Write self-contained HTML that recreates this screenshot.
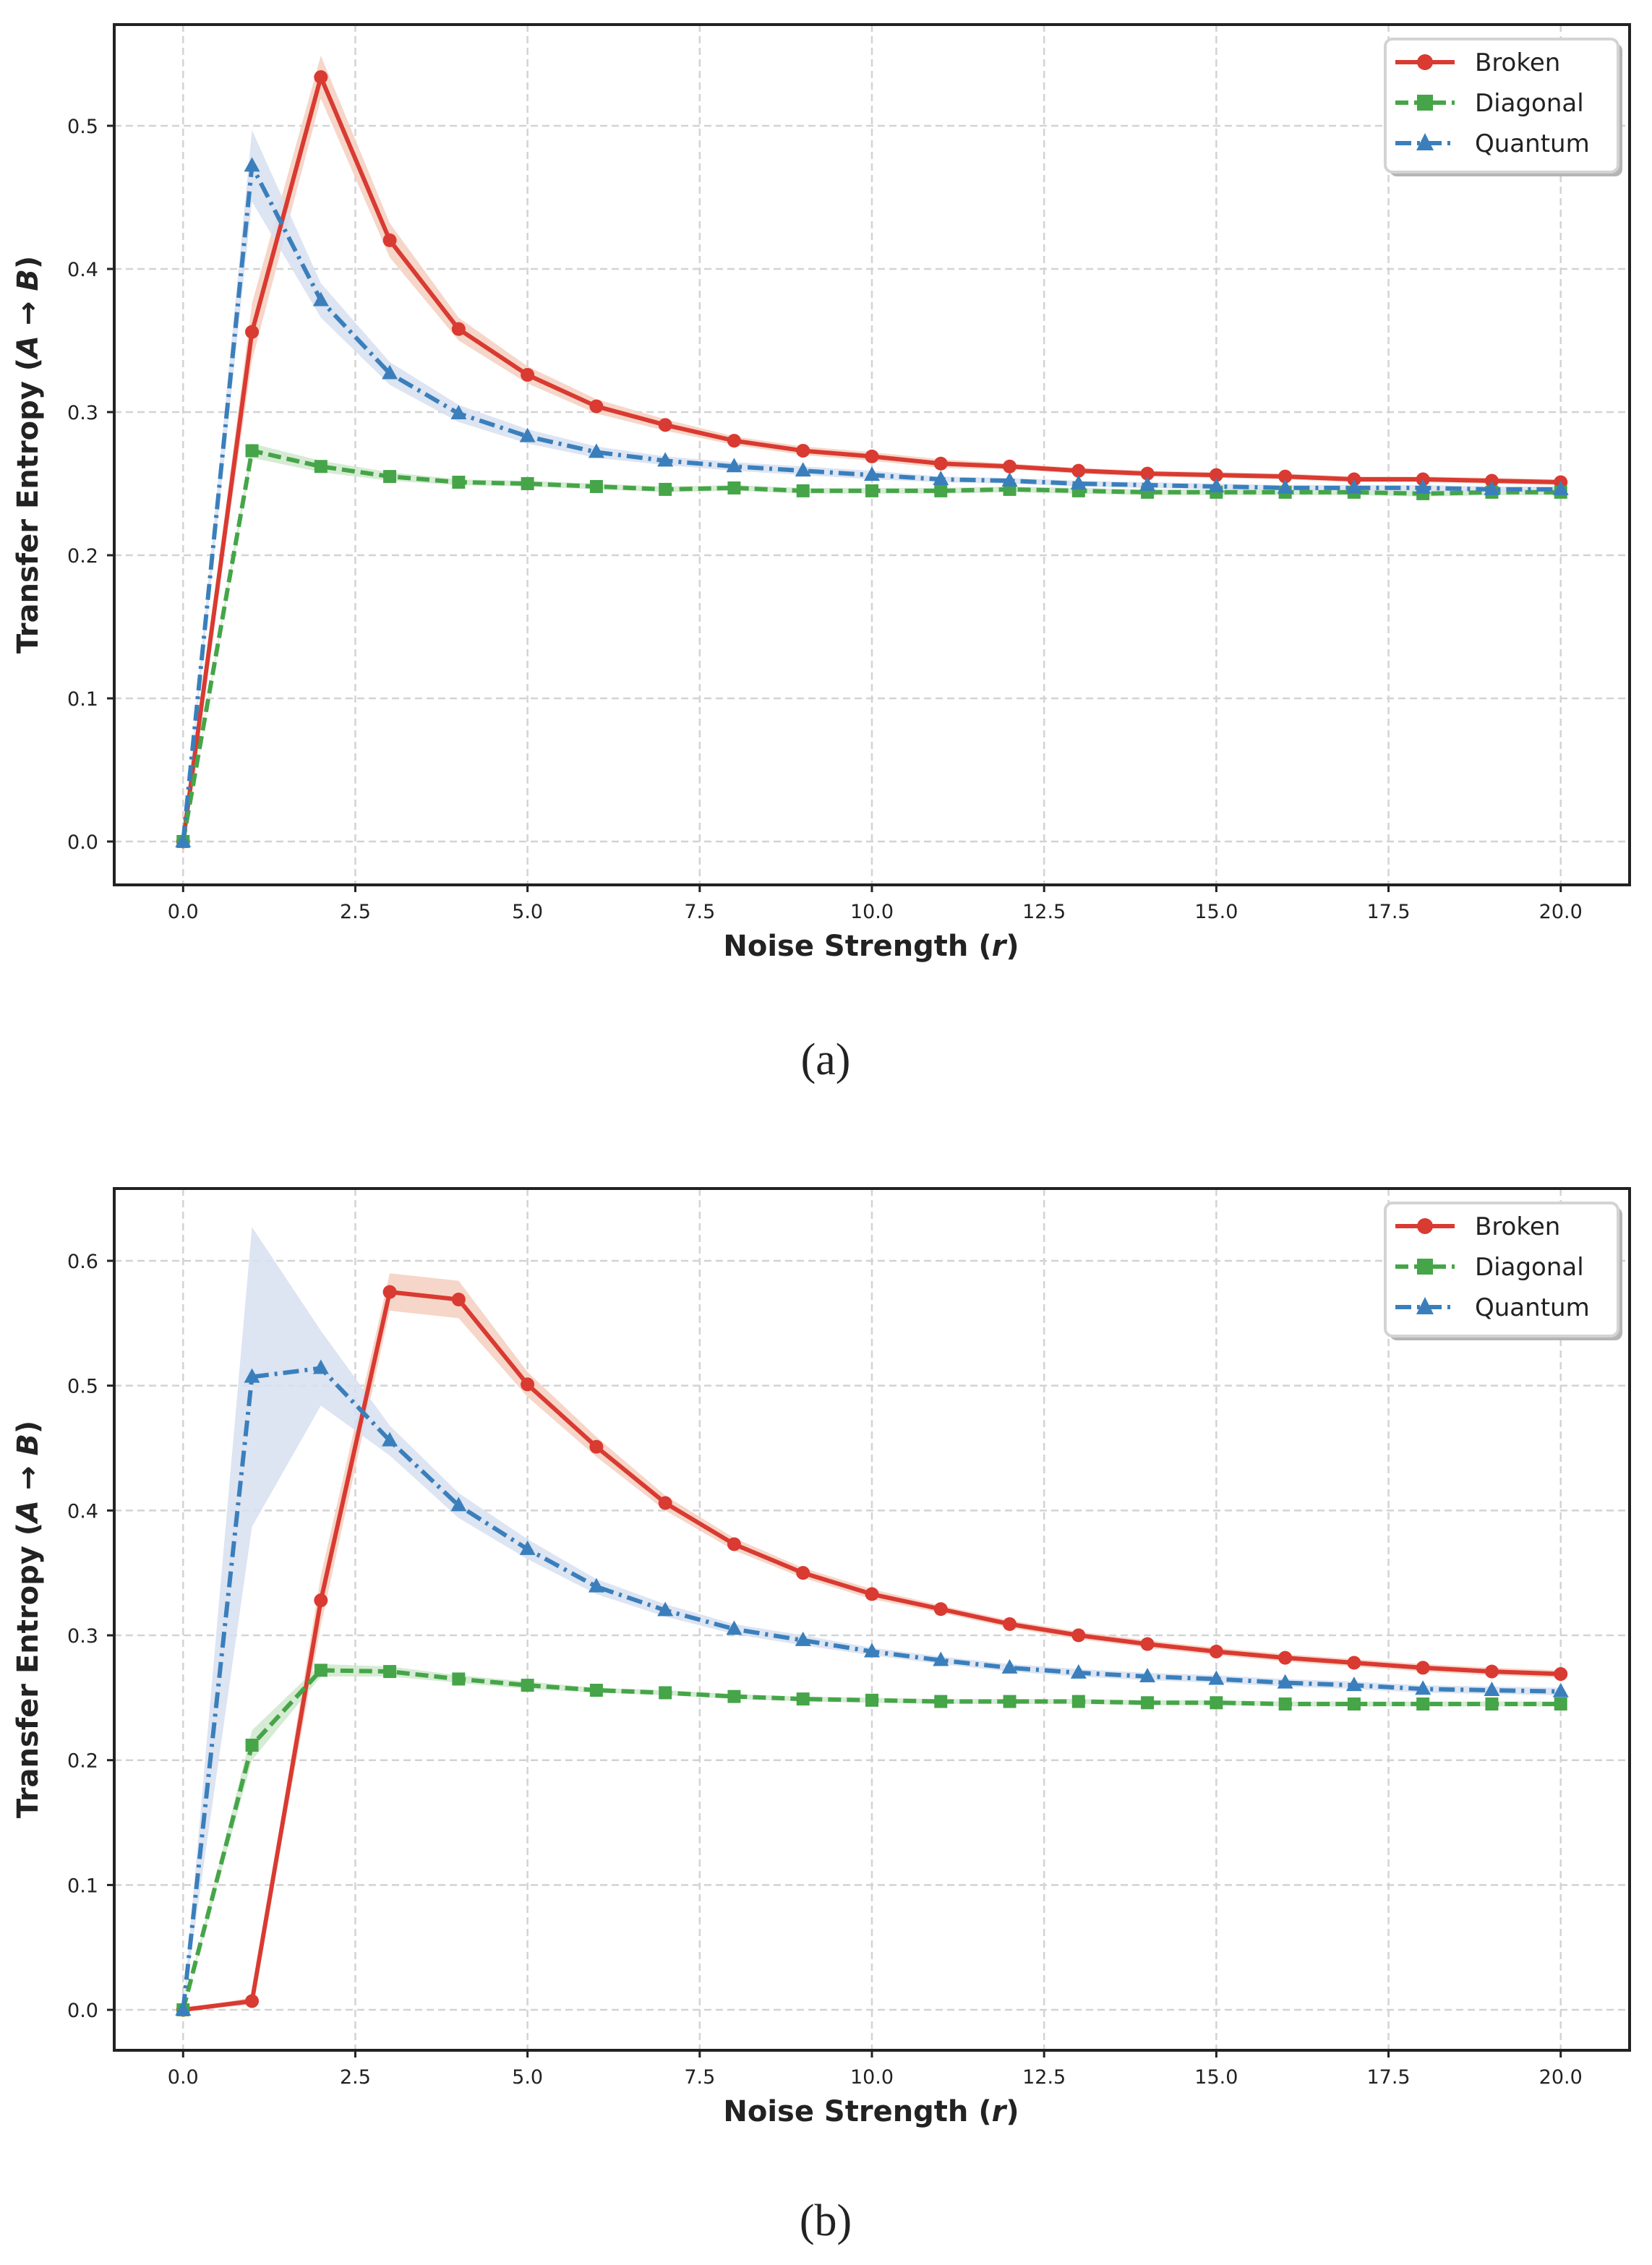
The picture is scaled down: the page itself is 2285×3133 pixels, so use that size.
<!DOCTYPE html>
<html><head><meta charset="utf-8">
<style>
html,body{margin:0;padding:0;background:#fff;}
svg{display:block;font-family:"DejaVu Sans","Liberation Sans",sans-serif;}
</style></head>
<body>
<svg id="fig" width="2285" height="3133" viewBox="0 0 2285 3133" xmlns="http://www.w3.org/2000/svg"></svg>
<script>
const xCats = [0,1,2,3,4,5,6,7,8,9,10,11,12,13,14,15,16,17,18,19,20];
const xTicks = [0,2.5,5,7.5,10,12.5,15,17.5,20];
const xTickLabels = ["0.0","2.5","5.0","7.5","10.0","12.5","15.0","17.5","20.0"];

const aBroken   = [0,.356,.534,.420,.358,.326,.304,.291,.280,.273,.269,.264,.262,.259,.257,.256,.255,.253,.253,.252,.251];
const aBrokenErr= [0,.02,.015,.012,.008,.006,.005,.004,.003,.003,.003,.003,.002,.002,.002,.002,.002,.002,.002,.002,.002];
const aDiag     = [0,.273,.262,.255,.251,.250,.248,.246,.247,.245,.245,.245,.246,.245,.244,.244,.244,.244,.243,.244,.244];
const aDiagErr  = [0,.005,.004,.003,.002,.002,.002,.002,.002,.002,.002,.002,.002,.002,.002,.002,.002,.002,.002,.002,.002];
const aQuant    = [0,.472,.378,.327,.299,.283,.272,.266,.262,.259,.256,.253,.252,.250,.249,.248,.247,.247,.247,.246,.246];
const aQuantErr = [0,.025,.012,.008,.006,.005,.004,.003,.003,.003,.003,.002,.002,.002,.002,.002,.002,.002,.002,.002,.002];
const aYTicks = [0,0.1,0.2,0.3,0.4,0.5];
const aYTickLabels = ["0.0","0.1","0.2","0.3","0.4","0.5"];

const bBroken   = [0,.007,.328,.575,.569,.501,.451,.406,.373,.350,.333,.321,.309,.300,.293,.287,.282,.278,.274,.271,.269];
const bBrokenErr= [0,.003,.02,.015,.015,.01,.008,.006,.005,.004,.004,.003,.003,.003,.003,.003,.003,.003,.003,.003,.003];
const bDiag     = [0,.212,.272,.271,.265,.260,.256,.254,.251,.249,.248,.247,.247,.247,.246,.246,.245,.245,.245,.245,.245];
const bDiagErr  = [0,.012,.005,.004,.003,.003,.002,.002,.002,.002,.002,.002,.002,.002,.002,.002,.002,.002,.002,.002,.002];
const bQuant    = [0,.507,.514,.456,.404,.369,.339,.320,.305,.296,.287,.280,.274,.270,.267,.265,.262,.260,.257,.256,.255];
const bQuantErr = [0,.12,.03,.012,.01,.008,.006,.005,.004,.004,.003,.003,.003,.003,.003,.003,.003,.003,.003,.003,.003];
const bYTicks = [0,0.1,0.2,0.3,0.4,0.5,0.6];
const bYTickLabels = ["0.0","0.1","0.2","0.3","0.4","0.5","0.6"];

const NS="http://www.w3.org/2000/svg";
const svg=document.getElementById('fig');
function el(tag,attrs,parent){const e=document.createElementNS(NS,tag);for(const k in attrs)e.setAttribute(k,attrs[k]);(parent||svg).appendChild(e);return e;}

const C={red:'#d93a31',green:'#45a548',blue:'#3a7fbc',redBand:'#f4cfc0',greenBand:'#cfe8cc',blueBand:'#d7dff0'};

function panel(cfg){
  const g=el('g',{});
  
  
  const L=158,R=2254,T=cfg.top,B=cfg.bottom;
  const xs=v=>L+(v-(-1))/(22)*(R-L);
  const ys=v=>B-(v-cfg.ymin)/(cfg.ymax-cfg.ymin)*(B-T);
  xTicks.forEach(t=>{const l=el('line',{x1:xs(t),x2:xs(t),y1:T,y2:B,stroke:'#d3d3d3','stroke-width':2.5,'stroke-dasharray':'10,6'},g);
    });
  cfg.yTicks.forEach(t=>{const l=el('line',{x1:L,x2:R,y1:ys(t),y2:ys(t),stroke:'#d3d3d3','stroke-width':2.5,'stroke-dasharray':'10,6'},g);
    });
  const series=[
    {n:'broken',v:cfg.broken,e:cfg.brokenErr,c:C.red,b:C.redBand,dash:'',m:'circle'},
    {n:'diagonal',v:cfg.diag,e:cfg.diagErr,c:C.green,b:C.greenBand,dash:'18,8',m:'square'},
    {n:'quantum',v:cfg.quant,e:cfg.quantErr,c:C.blue,b:C.blueBand,dash:'22,8,4,8',m:'triangle'}];
  series.forEach(s=>{
    let up=xCats.map((x,i)=>xs(x)+','+ys(s.v[i]+s.e[i]));
    let dn=xCats.map((x,i)=>xs(x)+','+ys(s.v[i]-s.e[i])).reverse();
    const band=el('polygon',{points:up.concat(dn).join(' '),fill:s.b,opacity:0.85},g);
    
  });
  series.forEach(s=>{
    const pl=el('polyline',{points:xCats.map((x,i)=>xs(x)+','+ys(s.v[i])).join(' '),fill:'none',stroke:s.c,'stroke-width':6,'stroke-dasharray':s.dash,'stroke-linejoin':'round'},g);
    
    xCats.forEach((x,i)=>{
      const cx=xs(x),cy=ys(s.v[i]);let mk;
      if(s.m==='circle')mk=el('circle',{cx:cx,cy:cy,r:9.5,fill:s.c},g);
      else if(s.m==='square')mk=el('rect',{x:cx-9,y:cy-9,width:18,height:18,fill:s.c},g);
      else mk=el('polygon',{points:`${cx},${cy-12} ${cx-11},${cy+8} ${cx+11},${cy+8}`,fill:s.c},g);
      
    });
  });
  const fr=el('rect',{x:L,y:T,width:R-L,height:B-T,fill:'none',stroke:'#222','stroke-width':4},g);
  
  xTicks.forEach((t,i)=>{
    el('line',{x1:xs(t),x2:xs(t),y1:B,y2:B+10,stroke:'#222','stroke-width':3},g);
    const tx=el('text',{x:xs(t),y:B+46,'text-anchor':'middle','font-size':27,fill:'#222'},g);
    tx.textContent=xTickLabels[i];
  });
  cfg.yTicks.forEach((t,i)=>{
    el('line',{x1:L-10,x2:L,y1:ys(t),y2:ys(t),stroke:'#222','stroke-width':3},g);
    const tx=el('text',{x:L-22,y:ys(t)+10,'text-anchor':'end','font-size':27,fill:'#222'},g);
    tx.textContent=cfg.yTickLabels[i];
  });
  const xl=el('text',{x:1205,y:B+98,'text-anchor':'middle','font-size':40,'font-weight':'bold',fill:'#222'},g);
  xl.innerHTML='Noise Strength (<tspan font-style="italic">r</tspan>)';
  
  const yc=(T+B)/2;
  const yl=el('text',{x:0,y:0,transform:`translate(52,${yc}) rotate(-90)`,'text-anchor':'middle','font-size':40,'font-weight':'bold',fill:'#222'},g);
  yl.innerHTML='Transfer Entropy (<tspan font-style="italic">A</tspan> → <tspan font-style="italic">B</tspan>)';
  
  const lg=el('g',{},g);
  const lx=1916,ly=T+20;
  el('rect',{x:lx+6,y:ly+6,width:322,height:184,rx:10,fill:'#b5b5b5'},lg);
  el('rect',{x:lx,y:ly,width:322,height:184,rx:10,fill:'#fff',stroke:'#d3d3d3','stroke-width':4},lg);
  const names=['Broken','Diagonal','Quantum'];
  series.forEach((s,i)=>{
    const ey=ly+32+i*56;
    const e=el('g',{},lg);
    el('line',{x1:lx+14,x2:lx+96,y1:ey,y2:ey,stroke:s.c,'stroke-width':6,'stroke-dasharray':s.dash},e);
    const cx=lx+55;
    if(s.m==='circle')el('circle',{cx:cx,cy:ey,r:11,fill:s.c},e);
    else if(s.m==='square')el('rect',{x:cx-11,y:ey-11,width:22,height:22,fill:s.c},e);
    else el('polygon',{points:`${cx},${ey-14} ${cx-12},${ey+10} ${cx+12},${ey+10}`,fill:s.c},e);
    const t=el('text',{x:lx+124,y:ey+12,'font-size':34,fill:'#222'},e);t.textContent=names[i];
  });
  const cap=el('text',{x:1142,y:cfg.capY,'text-anchor':'middle','font-size':62,fill:'#222','font-family':'"Liberation Serif",serif'},g);
  cap.textContent=cfg.cap;
}
panel({name:'panel-a',top:34,bottom:1224,ymin:-0.0303,ymax:0.5707,broken:aBroken,brokenErr:aBrokenErr,diag:aDiag,diagErr:aDiagErr,quant:aQuant,quantErr:aQuantErr,yTicks:aYTicks,yTickLabels:aYTickLabels,cap:'(a)',capY:1486});
panel({name:'panel-b',top:1644,bottom:2836,ymin:-0.0324,ymax:0.6579,broken:bBroken,brokenErr:bBrokenErr,diag:bDiag,diagErr:bDiagErr,quant:bQuant,quantErr:bQuantErr,yTicks:bYTicks,yTickLabels:bYTickLabels,cap:'(b)',capY:3092});
</script>
</body></html>
